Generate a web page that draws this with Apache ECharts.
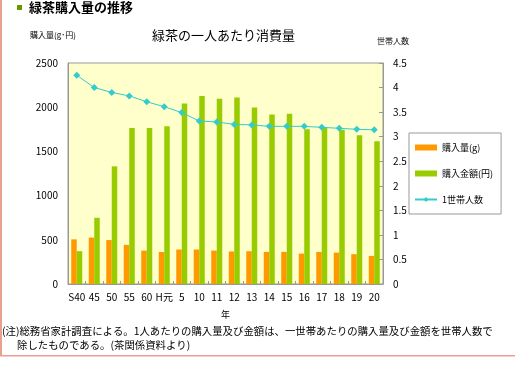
<!DOCTYPE html>
<html><head><meta charset="utf-8">
<script src="https://cdn.jsdelivr.net/npm/echarts@6/dist/echarts.min.js"></script>
<style>html,body{margin:0;padding:0;background:#fff}#c{width:515px;height:384px}</style>
</head><body><div id="c"></div>
<script>
const categories = ['S40','45','50','55','60','H元','5','10','11','12','13','14','15','16','17','18','19','20'];
const amountG = [505,525,497,443,378,362,390,390,378,368,371,363,363,344,363,355,337,318];
const amountYen = [371,749,1331,1766,1766,1785,2042,2126,2095,2110,1997,1918,1925,1751,1770,1744,1683,1615];
const persons = [4.25,4.00,3.90,3.83,3.71,3.61,3.49,3.32,3.30,3.25,3.24,3.21,3.21,3.21,3.19,3.17,3.15,3.14];
const leftTicks = [0,500,1000,1500,2000,2500];
const rightTicks = [0,0.5,1,1.5,2,2.5,3,3.5,4,4.5];

const FONT = '"Noto Sans CJK JP", sans-serif';
const chart = echarts.init(document.getElementById('c'), null, {renderer:'canvas'});
chart.setOption({
  animation:false,
  textStyle:{fontFamily:FONT},
  grid:{left:68,right:132,top:63,bottom:100,show:true,backgroundColor:'#FFFFCC',borderColor:'#999999',borderWidth:1},
  xAxis:{type:'category',data:categories,
    axisLine:{lineStyle:{color:'#999999'}},
    axisTick:{show:true,inside:true,length:3,lineStyle:{color:'#999999'}},
    axisLabel:{color:'#000',fontSize:10,margin:8,interval:0,fontFamily:FONT},
    name:'年',nameLocation:'middle',nameGap:26,nameTextStyle:{color:'#000',fontSize:9,fontFamily:FONT}},
  yAxis:[
    {type:'value',min:leftTicks[0],max:leftTicks[leftTicks.length-1],interval:500,
     axisLine:{show:true,lineStyle:{color:'#999999'}},axisTick:{show:false},splitLine:{show:false},
     axisLabel:{color:'#000',fontSize:10,margin:10,fontFamily:FONT,formatter:function(v){return String(v);}}},
    {type:'value',min:rightTicks[0],max:rightTicks[rightTicks.length-1],interval:0.5,position:'right',
     axisLine:{show:true,lineStyle:{color:'#999999'}},axisTick:{show:true,inside:true,length:4,lineStyle:{color:'#999999'}},splitLine:{show:false},
     axisLabel:{color:'#000',fontSize:10,margin:10,fontFamily:FONT,formatter:function(v){return String(v);}}}
  ],
  legend:{orient:'vertical',left:409,top:133,itemWidth:22,itemHeight:6,itemGap:17,
    padding:[10,8,10,5],borderColor:'#999999',borderWidth:1,backgroundColor:'#fff',
    textStyle:{fontSize:9,color:'#000',fontFamily:FONT},
    data:[{name:'購入量(g)',icon:'rect'},{name:'購入金額(円)',icon:'rect'},{name:'1世帯人数'}]},
  series:[
    {name:'購入量(g)',type:'bar',data:amountG,barWidth:5.5,barGap:'0%',itemStyle:{color:'#FF9900'}},
    {name:'購入金額(円)',type:'bar',data:amountYen,barWidth:5.5,barGap:'0%',itemStyle:{color:'#99CC00'}},
    {name:'1世帯人数',type:'line',yAxisIndex:1,data:persons,symbol:'diamond',symbolSize:7,
     lineStyle:{color:'#33CCCC',width:1},itemStyle:{color:'#33CCCC'}}
  ],
  graphic:[
    {type:'rect',shape:{x:0,y:0,width:2,height:356},style:{fill:'#E9A08C'}},
    {type:'rect',shape:{x:0,y:355,width:515,height:1.5},style:{fill:'#E9A08C'}},
    {type:'rect',shape:{x:17,y:5,width:5,height:5},style:{fill:'#669900'}},
    {type:'text',left:29,top:1,style:{text:'緑茶購入量の推移',font:'bold 13px '+FONT,fill:'#000'}},
    {type:'text',left:30,top:31,style:{text:'購入量(g･円)',font:'8px '+FONT,fill:'#000'}},
    {type:'text',left:152,top:29,style:{text:'緑茶の一人あたり消費量',font:'13px '+FONT,fill:'#000'}},
    {type:'text',left:377,top:37,style:{text:'世帯人数',font:'8px '+FONT,fill:'#000'}},
    {type:'text',left:2,top:326,style:{text:'(注)総務省家計調査による。1人あたりの購入量及び金額は、一世帯あたりの購入量及び金額を世帯人数で',font:'10.4px '+FONT,fill:'#000'}},
    {type:'text',left:17,top:340,style:{text:'除したものである。(茶関係資料より)',font:'10.4px '+FONT,fill:'#000'}}
  ]
});
</script></body></html>
